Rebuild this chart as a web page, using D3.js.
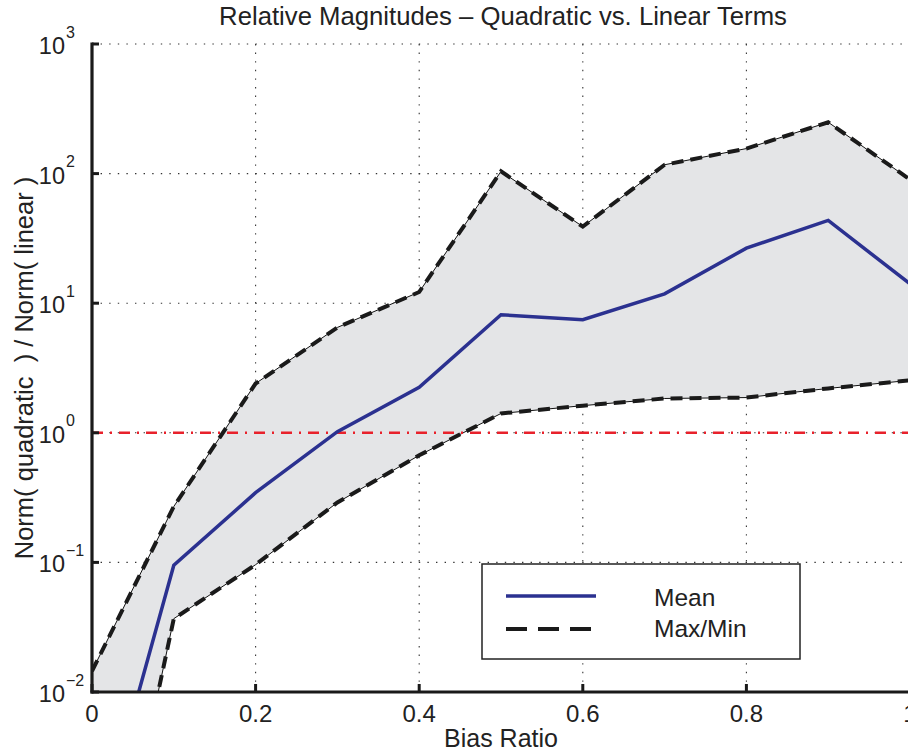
<!DOCTYPE html>
<html>
<head>
<meta charset="utf-8">
<script src="https://cdn.jsdelivr.net/npm/d3@7"></script>
<style>
  html, body { margin: 0; padding: 0; background: #fff; overflow: hidden; }
  svg { display: block; font-family: "Liberation Sans", Arial, Helvetica, sans-serif; }
</style>
</head>
<body>
<svg id="chart" width="908" height="755"></svg>
<script>
// Bias ratio samples and the quadratic/linear norm ratios
const biasRatio = [0, 0.1, 0.2, 0.3, 0.4, 0.5, 0.6, 0.7, 0.8, 0.9, 1.0];
const meanRatio = [0.0005, 0.095, 0.345, 1.02, 2.24, 8.14, 7.45, 11.8, 26.6, 43.5, 14.1];
const maxRatio  = [0.0145, 0.27, 2.4, 6.5, 12.2, 104, 39, 117, 156, 249, 90];
const minRatio  = [0.00004, 0.0368, 0.096, 0.29, 0.67, 1.41, 1.62, 1.84, 1.87, 2.2, 2.54];
const referenceLevel = 1;

const xTicks = [0, 0.2, 0.4, 0.6, 0.8, 1];
const xTickLabels = ["0", "0.2", "0.4", "0.6", "0.8", "1"];
const yExponents = [-2, -1, 0, 1, 2, 3];

const titleText = "Relative Magnitudes \u2013 Quadratic vs. Linear Terms";
const xLabelText = "Bias Ratio";
const yLabelText = "Norm( quadratic  ) / Norm( linear )";
const legendLabels = ["Mean", "Max/Min"];

const svg = d3.select("#chart");
const plotLeft = 92, plotRight = 910, plotTop = 44, plotBottom = 692;

const x = d3.scaleLinear().domain([0, 1]).range([plotLeft, plotRight]);
const y = d3.scaleLog().domain([1e-2, 1e3]).range([plotBottom, plotTop]);

svg.append("defs").append("clipPath").attr("id", "plotClip")
  .append("rect").attr("x", plotLeft).attr("y", plotTop)
  .attr("width", plotRight - plotLeft).attr("height", plotBottom - plotTop);

// dotted grid
const grid = svg.append("g").attr("stroke", "#333").attr("stroke-width", 1.1)
  .attr("stroke-dasharray", "1.4,7.2").attr("fill", "none");
grid.selectAll("line.h").data(yExponents).join("line").attr("class", "h")
  .attr("x1", plotLeft).attr("x2", plotRight)
  .attr("y1", d => y(Math.pow(10, d))).attr("y2", d => y(Math.pow(10, d)));
grid.selectAll("line.v").data(xTicks.filter(d => d > 0)).join("line").attr("class", "v")
  .attr("x1", d => x(d)).attr("x2", d => x(d))
  .attr("y1", plotTop).attr("y2", plotBottom);

const plot = svg.append("g").attr("clip-path", "url(#plotClip)");

// shaded band between min and max
const idx = d3.range(biasRatio.length);
const band = d3.area()
  .x(i => x(biasRatio[i]))
  .y0(i => y(minRatio[i]))
  .y1(i => y(maxRatio[i]));
plot.append("path").datum(idx).attr("d", band)
  .attr("fill", "#e4e5e7").attr("stroke", "#111").attr("stroke-width", 1);

// reference level at 1
plot.append("line")
  .attr("x1", plotLeft).attr("x2", plotRight)
  .attr("y1", y(referenceLevel)).attr("y2", y(referenceLevel))
  .attr("stroke", "#e8212b").attr("stroke-width", 2.6)
  .attr("stroke-dasharray", "11,7,2,7");

const lineOf = arr => d3.line().x(i => x(biasRatio[i])).y(i => y(arr[i]));

// mean curve
plot.append("path").datum(idx).attr("d", lineOf(meanRatio))
  .attr("fill", "none").attr("stroke", "#2b3190").attr("stroke-width", 3.5);

// max / min dashed curves
[maxRatio, minRatio].forEach(arr => {
  plot.append("path").datum(idx).attr("d", lineOf(arr))
    .attr("fill", "none").attr("stroke", "#1a1a1a").attr("stroke-width", 4)
    .attr("stroke-dasharray", "12,7");
});

// axes
const axes = svg.append("g").attr("stroke", "#1a1a1a");
axes.append("line").attr("x1", plotLeft).attr("x2", plotLeft)
  .attr("y1", plotTop - 1.5).attr("y2", plotBottom + 1.5).attr("stroke-width", 3.2);
axes.append("line").attr("x1", plotLeft - 1.5).attr("x2", plotRight)
  .attr("y1", plotBottom).attr("y2", plotBottom).attr("stroke-width", 3.2);
axes.selectAll("line.yt").data(yExponents).join("line").attr("class", "yt")
  .attr("x1", plotLeft).attr("x2", plotLeft + 7)
  .attr("y1", d => y(Math.pow(10, d))).attr("y2", d => y(Math.pow(10, d)))
  .attr("stroke-width", 3);
axes.selectAll("line.xt").data(xTicks).join("line").attr("class", "xt")
  .attr("x1", d => x(d)).attr("x2", d => x(d))
  .attr("y1", plotBottom).attr("y2", plotBottom - 8)
  .attr("stroke-width", 3);

const textColor = "#222";

// x tick labels
svg.append("g").selectAll("text").data(xTicks).join("text")
  .attr("x", d => x(d)).attr("y", 722)
  .attr("text-anchor", "middle").attr("font-size", 24).attr("fill", textColor)
  .text((d, i) => xTickLabels[i]);

// y tick labels (powers of ten)
const yl = svg.append("g").attr("fill", textColor);
yExponents.forEach(e => {
  const py = y(Math.pow(10, e));
  yl.append("text").attr("x", 65).attr("y", py + 10)
    .attr("text-anchor", "end").attr("font-size", 23.5).text("10");
  yl.append("text").attr("x", 66).attr("y", py - 6.5)
    .attr("font-size", 16).text(e < 0 ? "\u2212" + Math.abs(e) : String(e));
});

// title and axis labels
svg.append("text").attr("x", 503).attr("y", 25).attr("text-anchor", "middle")
  .attr("font-size", 25.7).attr("fill", textColor).text(titleText);
svg.append("text").attr("x", 501).attr("y", 747).attr("text-anchor", "middle")
  .attr("font-size", 25).attr("fill", textColor).text(xLabelText);
svg.append("text").attr("transform", "translate(33,368) rotate(-90)")
  .style("white-space", "pre")
  .attr("text-anchor", "middle").attr("font-size", 25.5).attr("fill", textColor).text(yLabelText);

// legend
const lg = svg.append("g");
lg.append("rect").attr("x", 482).attr("y", 564).attr("width", 318).attr("height", 95)
  .attr("fill", "#fff").attr("stroke", "#222").attr("stroke-width", 1.5);
lg.append("line").attr("x1", 506).attr("x2", 596).attr("y1", 596).attr("y2", 596)
  .attr("stroke", "#2b3190").attr("stroke-width", 3.5);
lg.append("line").attr("x1", 506).attr("x2", 596).attr("y1", 629).attr("y2", 629)
  .attr("stroke", "#1a1a1a").attr("stroke-width", 4).attr("stroke-dasharray", "21,11");
lg.selectAll("text").data(legendLabels).join("text")
  .attr("x", 654).attr("y", (d, i) => 606 + i * 31)
  .attr("font-size", 24.5).attr("fill", textColor).text(d => d);
</script>
</body>
</html>
